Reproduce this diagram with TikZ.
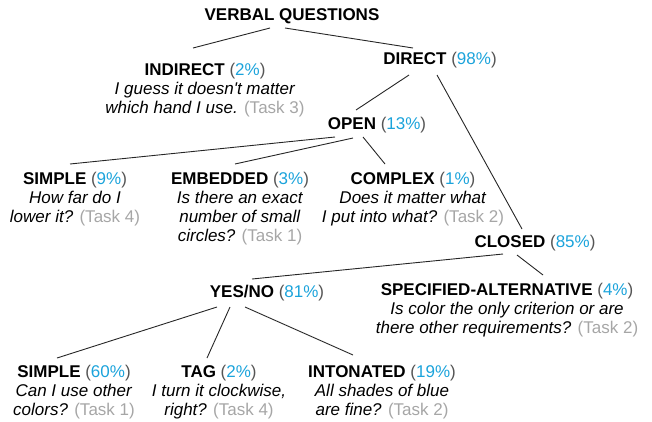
\documentclass[tikz,border=0pt]{standalone}
\usepackage{fontspec}
\setmainfont{Liberation Sans}
\usetikzlibrary{calc}
\definecolor{pct}{RGB}{27,163,219}
\definecolor{paren}{RGB}{85,85,85}
\definecolor{task}{RGB}{166,166,166}
\newcommand\hd[2]{\strut\textbf{#1} {\color{paren}(}{\color{pct}#2\%}{\color{paren})}}
\newcommand\tk[1]{{\upshape\color{task}(Task #1)}}
\newcommand\qt[1]{\strut\textit{#1}}
\begin{document}
\begin{tikzpicture}[x=1pt,y=-1pt,
  cat/.style={align=center,inner sep=0pt,anchor=north,font=\fontsize{17}{19}\selectfont},
  link/.style={line width=0.9pt,draw=black!85}]
\useasboundingbox (0,0) rectangle (652,421);
\node[cat] (vq) at (292,6.7) {\strut\textbf{VERBAL QUESTIONS}};
\node[cat] (ind) at (205,61.7) {\hd{INDIRECT}{2}\\ \qt{I guess it doesn\textquotesingle t matter}\\ \qt{which hand I use.} \tk{3}};
\node[cat] (dir) at (440,50.7) {\hd{DIRECT}{98}};
\node[cat] (open) at (377,115.7) {\hd{OPEN}{13}};
\node[cat] (simA) at (75,170.7) {\hd{SIMPLE}{9}\\ \qt{How far do I}\\ \qt{lower it?} \tk{4}};
\node[cat] (emb) at (240,170.7) {\hd{EMBEDDED}{3}\\ \qt{Is there an exact}\\ \qt{number of small}\\ \qt{circles?} \tk{1}};
\node[cat] (cpx) at (413,170.7) {\hd{COMPLEX}{1}\\ \qt{Does it matter what}\\ \qt{I put into what?} \tk{2}};
\node[cat] (cls) at (535,233.7) {\hd{CLOSED}{85}};
\node[cat] (yn) at (267,283.7) {\hd{YES/NO}{81}};
\node[cat] (spa) at (507,281.7) {\hd{SPECIFIED-ALTERNATIVE}{4}\\ \qt{Is color the only criterion or are}\\ \qt{there other requirements?} \tk{2}};
\node[cat] (simB) at (74,363.7) {\hd{SIMPLE}{60}\\ \qt{Can I use other}\\ \qt{colors?} \tk{1}};
\node[cat] (tag) at (219,363.7) {\hd{TAG}{2}\\ \qt{I turn it clockwise,}\\ \qt{right?} \tk{4}};
\node[cat] (int) at (382,363.7) {\hd{INTONATED}{19}\\ \qt{All shades of blue}\\ \qt{are fine?} \tk{2}};
\draw[link] ($(vq.north)+(-22,21.3)$) -- ($(ind.north)+(-12,-13.7)$);
\draw[link] ($(vq.north)+(-7,21.3)$) -- ($(dir.north)+(-27,-2.7)$);
\draw[link] ($(dir.north)+(-31,24.3)$) -- ($(open.north)+(-21,-5.7)$);
\draw[link] ($(dir.north)+(-3,24.3)$) -- ($(cls.north)+(-13,-4.7)$);
\draw[link] ($(open.north)+(-42,21.3)$) -- ($(simA.north)+(-5,-6.7)$);
\draw[link] ($(open.north)+(-24,22.3)$) -- ($(emb.north)+(-5,-6.7)$);
\draw[link] ($(open.north)+(-14,21.3)$) -- ($(cpx.north)+(-28,-6.7)$);
\draw[link] ($(cls.north)+(-32,20.3)$) -- ($(yn.north)+(-15,-4.7)$);
\draw[link] ($(cls.north)+(-18,21.3)$) -- ($(spa.north)+(36,-6.7)$);
\draw[link] ($(yn.north)+(-50,23.3)$) -- ($(simB.north)+(-17,-5.7)$);
\draw[link] ($(yn.north)+(-37,23.3)$) -- ($(tag.north)+(-12,-5.7)$);
\draw[link] ($(yn.north)+(-22,23.3)$) -- ($(int.north)+(-29,-8.7)$);
\end{tikzpicture}
\end{document}
